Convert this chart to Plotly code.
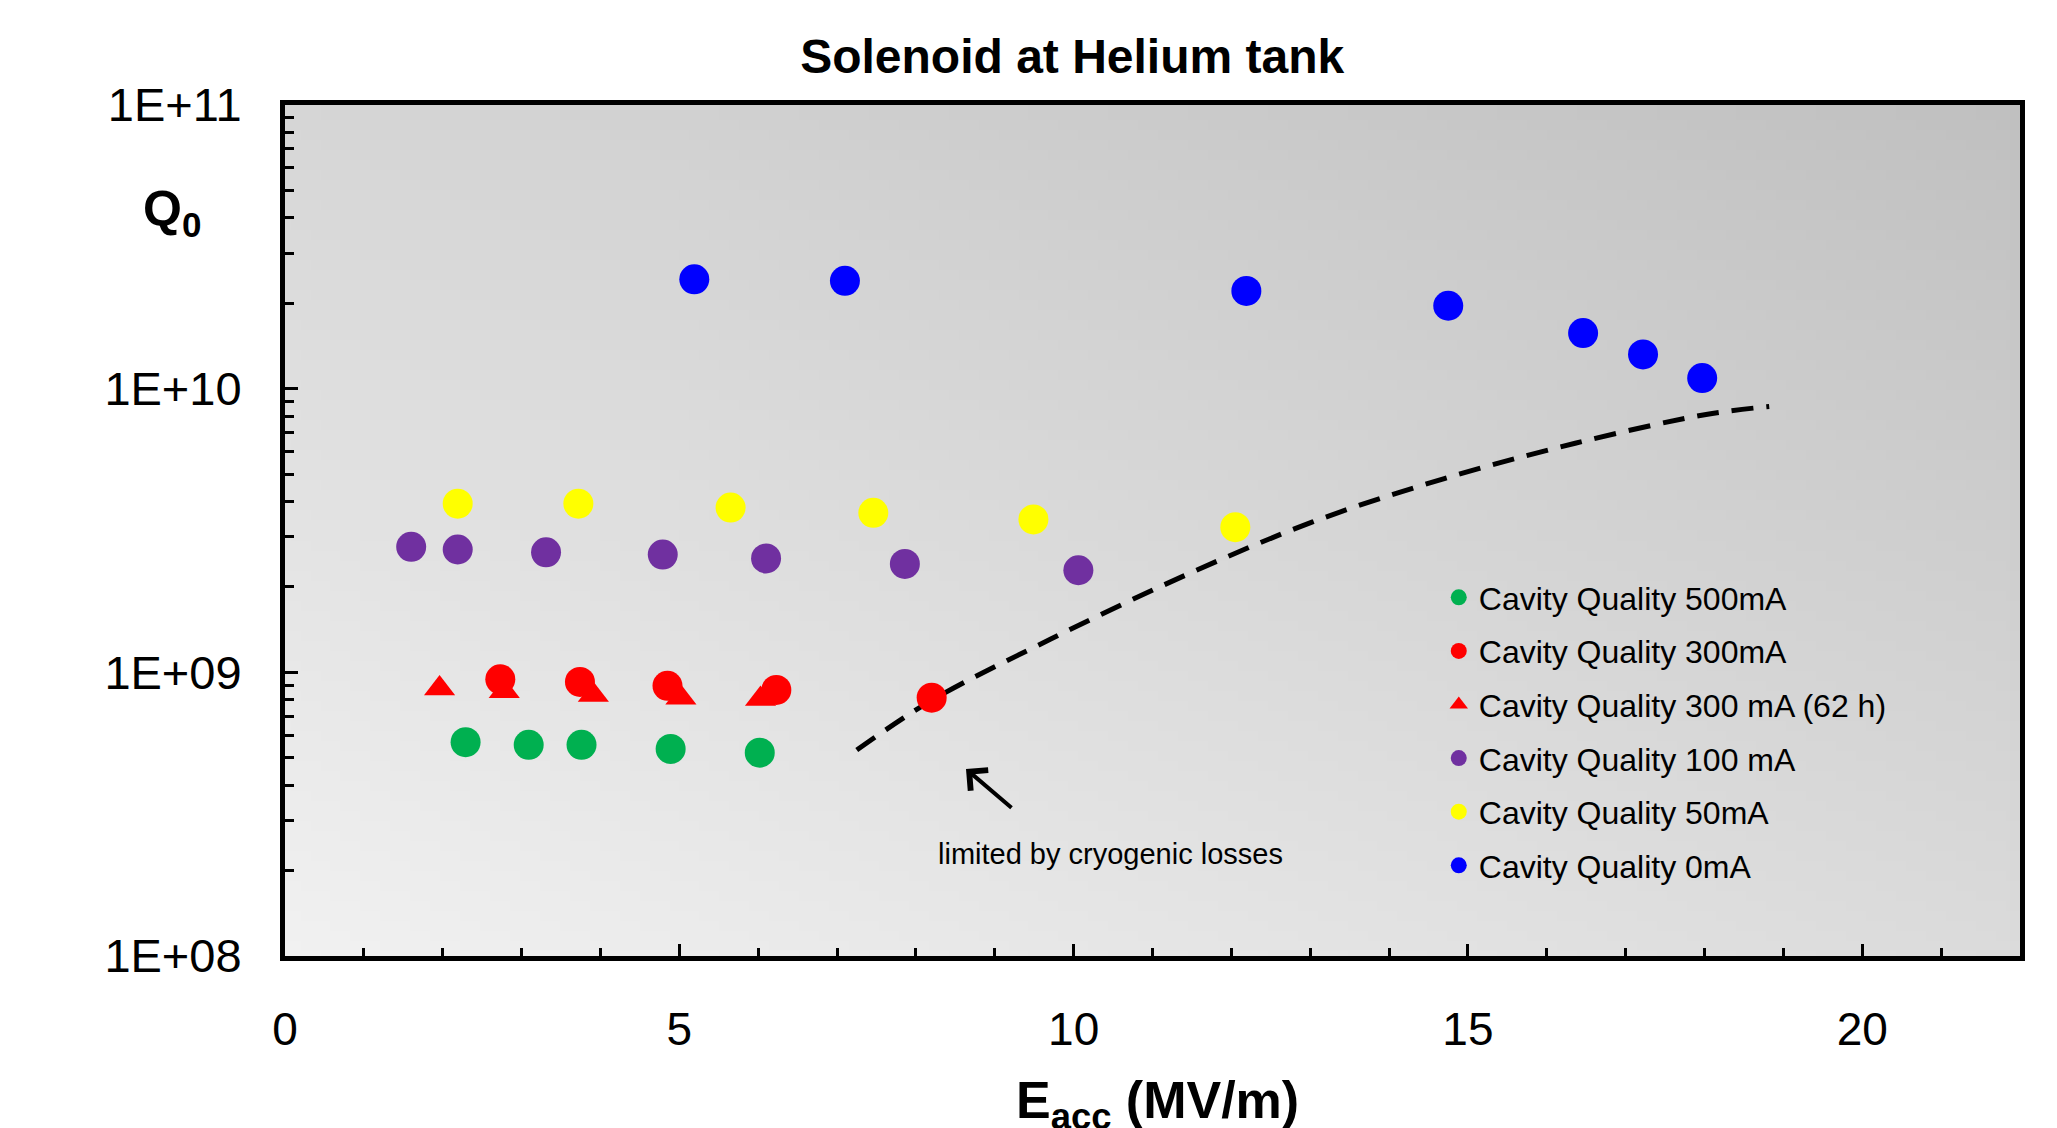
import base64
import struct
import zlib
import plotly.graph_objects as go

# ---------------- data ----------------
x_500 = [2.29, 3.09, 3.76, 4.89, 6.02]
q_500 = [5.67e8, 5.55e8, 5.55e8, 5.37e8, 5.21e8]

x_300 = [2.73, 3.74, 4.85, 6.23, 8.20]
q_300 = [9.45e8, 9.25e8, 8.96e8, 8.67e8, 8.14e8]

x_300_62h = [1.96, 2.78, 3.91, 5.02, 6.03]
q_300_62h = [8.77e8, 8.58e8, 8.32e8, 8.14e8, 8.05e8]

x_100 = [1.60, 2.19, 3.31, 4.79, 6.10, 7.86, 10.06]
q_100 = [2.77e9, 2.71e9, 2.65e9, 2.60e9, 2.52e9, 2.41e9, 2.29e9]

x_50 = [2.19, 3.72, 5.65, 7.46, 9.49, 12.05]
q_50 = [3.93e9, 3.93e9, 3.81e9, 3.65e9, 3.46e9, 3.25e9]

x_0 = [5.19, 7.10, 12.19, 14.75, 16.46, 17.22, 17.97]
q_0 = [2.43e10, 2.40e10, 2.21e10, 1.96e10, 1.57e10, 1.32e10, 1.09e10]

x_cryo = [7.25, 8.20, 9.71, 11.37, 13.03, 14.70, 16.36, 18.02, 18.82]
q_cryo = [5.32e8, 7.97e8, 1.31e9, 2.17e9, 3.39e9, 4.82e9, 6.42e9, 8.11e9, 8.65e9]

y_tickvals = [1e8, 1e9, 1e10, 1e11]
y_ticktext = ["1E+08", "1E+09", "1E+10", "1E+11"]
y_minorvals = [m * 10 ** e for e in (8, 9, 10) for m in range(2, 10)]
x_tickvals = [0, 5, 10, 15, 20]

series = [
    ("Cavity Quality 500mA", x_500, q_500, "#00B050", "circle"),
    ("Cavity Quality 300mA", x_300, q_300, "#FF0000", "circle"),
    ("Cavity Quality 300 mA (62 h)", x_300_62h, q_300_62h, "#FF0000", "triangle-up"),
    ("Cavity Quality 100 mA", x_100, q_100, "#7030A0", "circle"),
    ("Cavity Quality 50mA", x_50, q_50, "#FFFF00", "circle"),
    ("Cavity Quality 0mA", x_0, q_0, "#0000FF", "circle"),
]

FONT = "Liberation Sans, Arial, sans-serif"


# ---------------- background gradient image ----------------
def gradient_png(w, h):
    rows = []
    for j in range(h):
        v = 1 - j / (h - 1)
        row = bytearray([0])
        for i in range(w):
            u = i / (w - 1)
            c = int(round(241 - 22 * u - 27 * v))
            row.append(max(0, min(255, c)))
        rows.append(bytes(row))
    raw = b"".join(rows)

    def chunk(tag, data):
        return (struct.pack(">I", len(data)) + tag + data
                + struct.pack(">I", zlib.crc32(tag + data) & 0xFFFFFFFF))

    png = b"\x89PNG\r\n\x1a\n"
    png += chunk(b"IHDR", struct.pack(">IIBBBBB", w, h, 8, 0, 0, 0, 0))
    png += chunk(b"IDAT", zlib.compress(raw, 9))
    png += chunk(b"IEND", b"")
    return "data:image/png;base64," + base64.b64encode(png).decode()


fig = go.Figure()

fig.add_trace(go.Scatter(
    x=x_cryo, y=q_cryo, mode="lines", showlegend=False, hoverinfo="skip",
    line=dict(color="black", width=5, dash="22px,13px", shape="spline"),
))

for i, (name, xs, qs, col, sym) in enumerate(series):
    fig.add_trace(go.Scatter(
        x=xs, y=qs, mode="markers", name=name, legendgroup=f"g{i}",
        marker=dict(color=col, symbol=sym, size=30 if sym == "circle" else 27,
                    line=dict(width=0)),
    ))

fig.update_layout(
    width=2057, height=1128,
    margin=dict(l=285, r=37, t=105, b=172),
    paper_bgcolor="white",
    plot_bgcolor="#d8d8d8",
    font=dict(family=FONT, color="black"),
    title=dict(text="<b>Solenoid at Helium tank</b>", font=dict(size=48, family=FONT),
               x=0.4537, xref="paper", xanchor="center",
               y=1 - 56 / 1128, yref="container", yanchor="middle"),
    showlegend=True,
    legend=dict(x=0.665, y=0.4536, xanchor="left", yanchor="top",
                bgcolor="rgba(0,0,0,0)", borderwidth=0,
                font=dict(size=32, family=FONT), tracegroupgap=9,
                itemsizing="trace"),
    images=[dict(source=gradient_png(174, 85), xref="paper", yref="paper",
                 x=0, y=1, sizex=1, sizey=1, sizing="stretch",
                 xanchor="left", yanchor="top", layer="below")],
)

fig.update_xaxes(
    range=[0, 22], tickmode="array", tickvals=x_tickvals,
    ticks="inside", ticklen=12, tickwidth=3, tickcolor="black",
    ticklabelstandoff=29,
    tickfont=dict(size=46, family=FONT),
    minor=dict(dtick=1, tick0=0, ticks="inside", ticklen=8, tickwidth=3, tickcolor="black"),
    showline=True, linewidth=5, linecolor="black", mirror=True,
    showgrid=False, zeroline=False,
)
fig.update_yaxes(
    type="log", range=[8, 11], tickmode="array", tickvals=y_tickvals, ticktext=y_ticktext,
    ticks="inside", ticklen=13, tickwidth=3, tickcolor="black",
    ticklabelstandoff=29,
    tickfont=dict(size=47, family=FONT),
    minor=dict(tickmode="array", tickvals=y_minorvals, ticks="inside", ticklen=9,
               tickwidth=3, tickcolor="black"),
    showline=True, linewidth=5, linecolor="black", mirror=True,
    showgrid=False, zeroline=False,
)

fig.add_annotation(text="<b>E<sub>acc</sub> (MV/m)</b>", xref="paper", yref="paper",
                   x=0.5026, y=(956 - 1104) / 851, xanchor="center", yanchor="middle",
                   showarrow=False, font=dict(size=52, family=FONT))
fig.add_annotation(text="<b>Q<sub>0</sub></b>", xref="paper", yref="paper",
                   x=(172 - 285) / 1735, y=(956 - 212) / 851, xanchor="center", yanchor="middle",
                   showarrow=False, font=dict(size=50, family=FONT))
fig.add_annotation(text="limited by cryogenic losses", xref="paper", yref="paper",
                   x=0.476, y=0.1199, xanchor="center", yanchor="middle",
                   showarrow=False, font=dict(size=29, family=FONT))
fig.add_annotation(text="", xref="paper", yref="paper",
                   x=(966 - 285) / 1735, y=(956 - 769) / 851,
                   ax=47, ay=40, showarrow=True, arrowhead=4, arrowsize=1.3,
                   arrowwidth=4, arrowcolor="black")

fig.write_html("out.html")
